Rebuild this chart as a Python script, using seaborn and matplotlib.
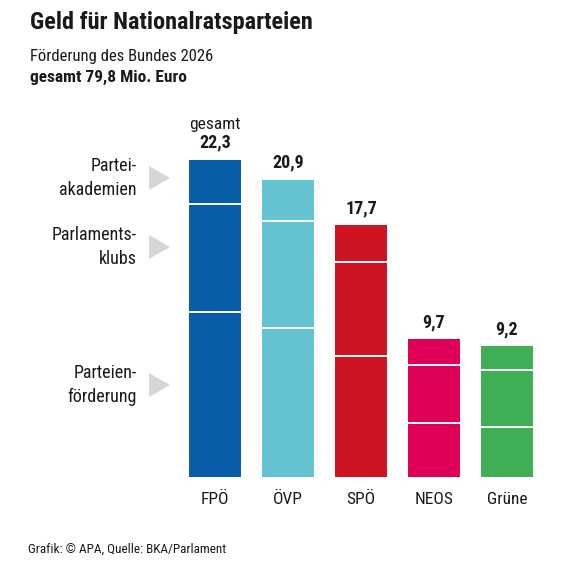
import matplotlib
matplotlib.use("Agg")
import matplotlib.pyplot as plt
from matplotlib.patches import Polygon
import seaborn as sns
import pandas as pd

# Daten (Mio. Euro)
parteien = ["FPÖ", "ÖVP", "SPÖ", "NEOS", "Grüne"]
gesamt = [22.3, 20.9, 17.7, 9.7, 9.2]
parteienfoerderung = [11.6, 10.5, 8.5, 3.8, 3.5]
parlamentsklubs = [7.6, 7.5, 6.6, 4.1, 4.0]
farben = ["#0A5EA8", "#64C3D0", "#CE1422", "#E0005A", "#40AE55"]
segment_labels = ["Partei-\nakademien", "Parlaments-\nklubs", "Parteien-\nförderung"]

sns.set_theme(style="white")
plt.rcParams["font.family"] = ["Roboto Condensed", "DejaVu Sans"]

df = pd.DataFrame({"partei": parteien, "gesamt": gesamt,
                   "stufe1": parteienfoerderung,
                   "stufe2": [a + b for a, b in zip(parteienfoerderung, parlamentsklubs)]})

W, H = 570, 566
fig = plt.figure(figsize=(W / 100, H / 100), dpi=100)
ax = fig.add_axes([178.5 / W, (H - 477) / H, 365 / W, (477 - 121.2) / H])

bw = 0.71
sns.barplot(data=df, x="partei", y="gesamt", hue="partei", palette=farben,
            width=bw, saturation=1, legend=False, ax=ax, linewidth=0)

# weiße Trennlinien zwischen den Segmenten
for i, row in df.iterrows():
    for col in ["stufe1", "stufe2"]:
        ax.hlines(row[col], i - bw / 2, i + bw / 2, color="white", lw=1.4, zorder=5)
    ax.text(i, row["gesamt"] + 0.55, f"{row['gesamt']:.1f}".replace(".", ","),
            ha="center", va="bottom", fontsize=13, fontweight="bold", color="#1a1a1a")
ax.text(0, df["gesamt"][0] + 1.95, "gesamt", ha="center", va="bottom",
        fontsize=12.5, color="#1a1a1a")

ax.set_xlim(-0.5, 4.5)
ax.set_ylim(0, 25)
ax.set_xlabel("")
ax.set_ylabel("")
ax.set_yticks([])
ax.tick_params(axis="x", length=0, pad=11, labelsize=12.5, colors="#1a1a1a")
sns.despine(ax=ax, left=True, bottom=True)

# Beschriftungen links mit Dreiecken
for lab, yc in zip(segment_labels, [178, 247, 385]):
    fig.text(137 / W, (H - yc) / H, lab, ha="right", va="center", fontsize=13,
             color="#1a1a1a", linespacing=1.4)
    tri = Polygon([[149 / W, (H - yc + 12) / H], [149 / W, (H - yc - 12) / H],
                   [170 / W, (H - yc) / H]], closed=True, transform=fig.transFigure,
                  facecolor="#D6D6D6", edgecolor="none")
    fig.patches.append(tri)

fig.text(30 / W, (H - 22) / H, "Geld für Nationalratsparteien", ha="left", va="center",
         fontsize=17.5, fontweight="bold", color="#1a1a1a")
fig.text(30 / W, (H - 56) / H, "Förderung des Bundes 2026", ha="left", va="center",
         fontsize=12, color="#1a1a1a")
fig.text(30 / W, (H - 77) / H, "gesamt 79,8 Mio. Euro", ha="left", va="center",
         fontsize=12.5, fontweight="bold", color="#1a1a1a")
fig.text(28 / W, (H - 549) / H, "Grafik: © APA, Quelle: BKA/Parlament", ha="left",
         va="center", fontsize=9.5, color="#1a1a1a")

fig.savefig("out.png", dpi=100)
